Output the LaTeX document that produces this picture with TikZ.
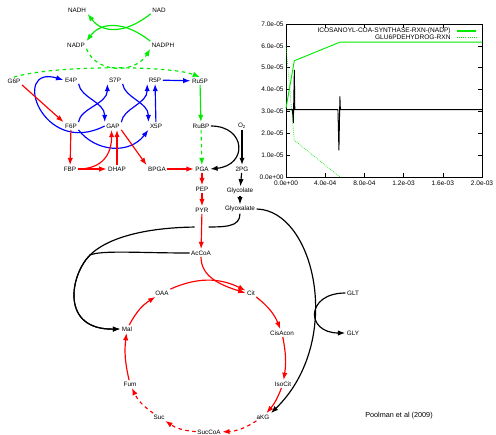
\documentclass[tikz,border=0pt]{standalone}
\usepackage{fontspec}
\setsansfont{Liberation Sans}
\usetikzlibrary{arrows.meta}

\definecolor{rxngreen}{RGB}{0,235,0}

\begin{document}
\begin{tikzpicture}[
    x=0.03cm,
    y=-0.03cm,
    met/.style={
        inner sep=1.2pt,
        font=\sffamily\fontsize{5.4}{6}\selectfont
    },
    plotlabel/.style={
        inner sep=1pt,
        font=\sffamily\fontsize{5.6}{6}\selectfont
    },
    arrow/.style={
        ->,
        line width=1pt,
        >={Latex[length=2.2mm, width=1.6mm]}
    }
]
    \useasboundingbox (0,0) rectangle (496,434);

    % Cofactors
    \node[met] (nadh)  at (77,10)  {NADH};
    \node[met] (nad)   at (159,10) {NAD};
    \node[met] (nadp)  at (76,45)  {NADP};
    \node[met] (nadph) at (163,45) {NADPH};

    % Pentose phosphates
    \node[met] (g6p)  at (14,81)   {G6P};
    \node[met] (e4p)  at (71,80)   {E4P};
    \node[met] (s7p)  at (115,80)  {S7P};
    \node[met] (r5p)  at (155,80)  {R5P};
    \node[met] (ru5p) at (200,81)  {Ru5P};
    \node[met] (f6p)  at (71,126)  {F6P};
    \node[met] (gap)  at (113,126) {GAP};
    \node[met] (x5p)  at (156,126) {X5P};
    \node[met] (rubp) at (201,126) {RuBP};
    \node[met] (o2)   at (242,126) {O\textsubscript{2}};

    % Glycolysis
    \node[met] (fbp)   at (70,169)  {FBP};
    \node[met] (dhap)  at (117,169) {DHAP};
    \node[met] (bpga)  at (157,169) {BPGA};
    \node[met] (pga)   at (202,169) {PGA};
    \node[met] (pg2)   at (242,169) {2PG};
    \node[met] (pep)   at (202,189) {PEP};
    \node[met] (glyc)  at (240,191) {Glycolate};
    \node[met] (pyr)   at (202,210) {PYR};
    \node[met] (glyox) at (240,209) {Glyoxalate};
    \node[met] (accoa) at (201,253) {AcCoA};

    % TCA cycle
    \node[met] (oaa)     at (162,293) {OAA};
    \node[met] (cit)     at (251,293) {Cit};
    \node[met] (mal)     at (127,329) {Mal};
    \node[met] (cisacon) at (282,333) {CisAcon};
    \node[met] (fum)     at (130,384) {Fum};
    \node[met] (isocit)  at (283,384) {IsoCit};
    \node[met] (suc)     at (159,417) {Suc};
    \node[met] (akg)     at (263,417) {aKG};
    \node[met] (succoa)  at (209,432) {SucCoA};
    \node[met] (glt)     at (353,293) {GLT};
    \node[met] (gly)     at (353,333) {GLY};

    \node[met, font=\sffamily\fontsize{6.2}{7}\selectfont] (cite) at (399,416) {Poolman et al (2009)};

    % NAD(P)H exchange
    \draw[arrow, rxngreen] (nad.south west) .. controls +(-25,20) and +(15,20) .. (nadh.south east);
    \draw[arrow, rxngreen] (nadph.north west) .. controls +(-25,-20) and +(15,-20) .. (nadp.north east);

    % G6P dehydrogenase
    \draw[arrow, rxngreen, dashed] (g6p.north) .. controls +(38,-12) and +(-30,-12) .. (ru5p.north);
    \draw[arrow, rxngreen, dashed] (nadp.south east) .. controls +(10,25) and +(-15,25) .. (nadph.south west);
    \draw[arrow, rxngreen] (ru5p) -- (rubp);
    \draw[arrow, rxngreen, dashed] (rubp) -- (pga);

    % Pentose phosphate shuffle
    \draw[arrow, blue] (e4p.south east) .. controls +(2,14) and +(0,-20) .. (gap.north west);
    \draw[arrow, blue] (f6p.north east) .. controls +(2,-14) and +(0,20) .. (s7p.south west);
    \draw[arrow, blue] (s7p.south east) .. controls +(2,14) and +(0,-20) .. (x5p.north west);
    \draw[arrow, blue] (gap.north east) .. controls +(2,-14) and +(0,20) .. (r5p.south west);
    \draw[arrow, blue] (gap.west) .. controls +(-63,32) and +(-53,-16) .. (e4p.west);
    \draw[arrow, blue] (f6p.south east) .. controls +(17,22) and +(-19,25) .. (x5p.south west);
    \draw[arrow, blue] (x5p) -- (r5p);
    \draw[arrow, blue] (r5p) -- (ru5p);

    % Glycolysis
    \draw[arrow, red] (g6p.south east) -- (f6p.north west);
    \draw[arrow, red] (f6p) -- (fbp);
    \draw[arrow, red] (fbp) -- (dhap);
    \draw[arrow, red] (fbp.east) .. controls +(25,0) and +(0,24) .. (gap.250);
    \draw[arrow, red] (dhap.north) -- (dhap.north |- gap.south);
    \draw[arrow, red] (gap.south east) -- (bpga.north west);
    \draw[arrow, red] (bpga) -- (pga);
    \draw[arrow, red] (pga) -- (pep);
    \draw[arrow, red] (pep) -- (pyr);

    % Photorespiration
    \draw[arrow] (rubp.east) .. controls +(35,0) and +(38,-4) .. (pga.east);
    \draw[arrow, line width=1.5pt] (o2) -- (pg2);
    \draw[arrow] (pg2) -- (glyc);
    \draw[arrow] (glyc) -- (glyox);

    % Malate synthase
    \coordinate (merge) at (90,255);
    \draw[arrow] (glyox.south) .. controls +(0,14) and +(25,0) .. (200,227) .. controls (140,227) and (105,240) .. (merge) .. controls (70,275) and (60,330) .. (mal.west);
    \draw[arrow] (accoa.west) .. controls +(-50,0) and +(12,-5) .. (merge) .. controls (70,275) and (60,330) .. (mal.west);

    % PYR to AcCoA, crossing over
    \draw[white, line width=12pt, shorten >=8pt] (pyr) -- (accoa);
    \draw[arrow, red] (pyr) -- (accoa);

    % Glycine aminotransferase
    \draw[arrow] (glyox.east) .. controls +(58,1) and +(74,-72) .. (akg.north east);
    \draw[arrow] (glt.west) .. controls +(-40,0) and +(-40,0) .. (gly.west);

    % TCA cycle
    \draw[arrow, red] (accoa.south) .. controls +(0,20) and +(-25,-8) .. (cit.west);
    \draw[arrow, red] (oaa) to[bend left=25] (cit);
    \draw[arrow, red] (cit) to[bend left=15] (cisacon);
    \draw[arrow, red] (cisacon) to[bend left=10] (isocit);
    \draw[arrow, red] (isocit) to[bend left=10] (akg);
    \draw[arrow, red, dashed] (akg) to[bend left=15] (succoa);
    \draw[arrow, red, dashed] (succoa) to[bend left=15] (suc);
    \draw[arrow, red, dashed] (suc) to[bend left=15] (fum);
    \draw[arrow, red] (fum) to[bend left=10] (mal);
    \draw[arrow, red] (mal) to[bend left=15] (oaa);

    % Flux plot
    \begin{scope}[shift={(286,177)}, x=0.294cm, y=0.6557cm]
        \draw[line width=0.5pt] (0,0) rectangle (20,7);
        \foreach \k in {1,...,6} {
            \draw[line width=0.4pt] (0,\k) -- (0.4,\k);
            \draw[line width=0.4pt] (20,\k) -- (19.6,\k);
        }
        \foreach \k in {4,8,12,16} {
            \draw[line width=0.4pt] (\k,0) -- (\k,0.18);
            \draw[line width=0.4pt] (\k,7) -- (\k,6.82);
        }

        % y tick labels
        \node[plotlabel, anchor=east] (y0) at (-0.1,0) {0.0e+00};
        \node[plotlabel, anchor=east] (y1) at (-0.1,1) {1.0e-05};
        \node[plotlabel, anchor=east] (y2) at (-0.1,2) {2.0e-05};
        \node[plotlabel, anchor=east] (y3) at (-0.1,3) {3.0e-05};
        \node[plotlabel, anchor=east] (y4) at (-0.1,4) {4.0e-05};
        \node[plotlabel, anchor=east] (y5) at (-0.1,5) {5.0e-05};
        \node[plotlabel, anchor=east] (y6) at (-0.1,6) {6.0e-05};
        \node[plotlabel, anchor=east] (y7) at (-0.1,7) {7.0e-05};

        % x tick labels
        \node[plotlabel, anchor=north] (x0) at (0,-0.1)  {0.0e+00};
        \node[plotlabel, anchor=north] (x1) at (4,-0.1)  {4.0e-04};
        \node[plotlabel, anchor=north] (x2) at (8,-0.1)  {8.0e-04};
        \node[plotlabel, anchor=north] (x3) at (12,-0.1) {1.2e-03};
        \node[plotlabel, anchor=north] (x4) at (16,-0.1) {1.6e-03};
        \node[plotlabel, anchor=north] (x5) at (20,-0.1) {2.0e-03};

        % Fluxes
        \draw[line width=0.8pt] (0,3.08) -- (0.65,3.08) -- (0.75,2.47) -- (0.85,4.9) -- (0.9,3.08) -- (5.3,3.08) -- (5.4,1.22) -- (5.5,3.69) -- (5.55,3.08) -- (20,3.08);
        \draw[rxngreen, line width=0.8pt] (0,3.15) -- (0.85,5.32) -- (5.5,6.17) -- (20,6.17);
        \draw[rxngreen, line width=0.6pt, densely dotted] (0,5.98) -- (0.85,1.68) -- (5.5,0);
    \end{scope}

    % Legend
    \node[plotlabel, anchor=east] (leg1) at (452,31) {ICOSANOYL-COA-SYNTHASE-RXN-(NADP)};
    \draw[draw=rxngreen, line width=1pt] (leg1.east) ++(5,0) -- ++(19,0);
    \node[plotlabel, anchor=east] (leg2) at (452,37) {GLU6PDEHYDROG-RXN};
    \draw[draw=rxngreen, line width=0.8pt, densely dotted] (leg2.east) ++(5,0) -- ++(19,0);

\end{tikzpicture}
\end{document}
